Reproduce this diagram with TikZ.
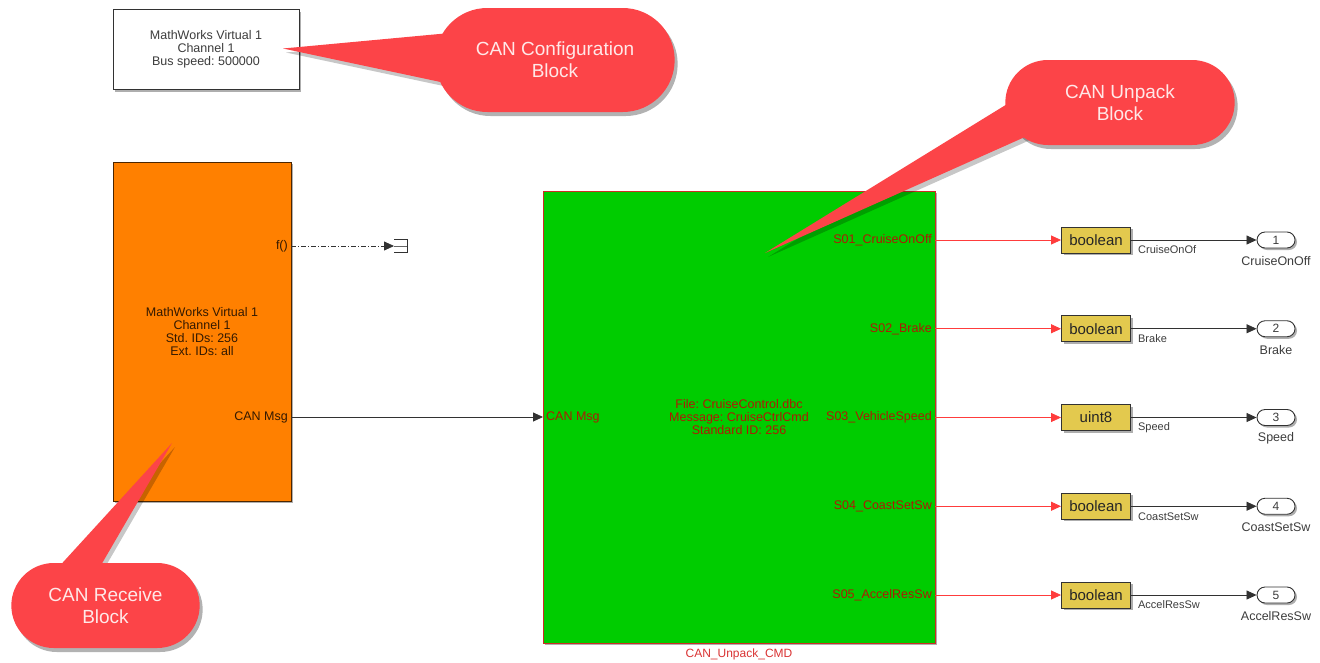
\documentclass[tikz,border=0pt]{standalone}
\usepackage{fontspec}
\setmainfont{Liberation Sans}
\usetikzlibrary{arrows.meta,shapes.misc,shadows,positioning,calc}
\frenchspacing

\definecolor{calloutred}{RGB}{252,68,72}
\definecolor{callouttxt}{RGB}{255,232,232}
\definecolor{rxorange}{RGB}{255,128,0}
\definecolor{unpkgreen}{RGB}{0,204,0}
\definecolor{unpkborder}{RGB}{205,45,35}
\definecolor{unpktxt}{RGB}{175,25,5}
\definecolor{sigred}{RGB}{255,60,60}
\definecolor{convyellow}{RGB}{227,201,78}
\definecolor{blkline}{RGB}{50,50,50}
\definecolor{lbltxt}{RGB}{60,60,60}

\begin{document}
\begin{tikzpicture}[x=1pt, y=-1pt,
  blk/.style={draw=blkline, line width=0.9pt, align=center, text=lbltxt,
    font=\fontsize{12.5}{12.8}\selectfont,
    drop shadow={shadow xshift=2pt, shadow yshift=-2pt, opacity=0.45, fill=black!70}},
  portlbl/.style={inner sep=3pt, font=\fontsize{12.5}{13}\selectfont},
  conv/.style={blk, fill=convyellow, text=black!85, inner sep=0pt,
    minimum width=69pt, minimum height=26pt, font=\fontsize{15}{16}\selectfont},
  outport/.style={blk, rounded rectangle, fill=white, inner sep=0pt,
    minimum width=38pt, minimum height=16pt, font=\fontsize{12}{12}\selectfont},
  linelbl/.style={inner sep=0pt, text=lbltxt, font=\fontsize{11}{11}\selectfont},
  callout/.style={rounded rectangle, fill=calloutred, text=callouttxt, align=center,
    font=\fontsize{19}{22}\selectfont,
    drop shadow={shadow xshift=3pt, shadow yshift=-4pt, opacity=0.3, fill=black}},
  tailshade/.style={fill=black, opacity=0.22, transform canvas={xshift=3pt, yshift=-4pt}},
  blksig/.style={draw=blkline, line width=0.8pt, -{Triangle[length=10pt,width=9pt]}},
  redsig/.style={draw=sigred, line width=0.8pt, -{Triangle[length=10pt,width=9pt]}}
]
\useasboundingbox (0,0) rectangle (1320,662);

% --- CAN configuration block ---
\node[blk, fill=white, minimum width=186pt, minimum height=80pt] (cfg) at (206,49.5)
  {MathWorks Virtual 1\\Channel 1\\Bus speed: 500000};

% --- CAN receive block ---
\node[blk, fill=rxorange, draw=black!70!rxorange, text=black!80!rxorange,
  minimum width=178pt, minimum height=339pt] (rx) at (202,331.5)
  {MathWorks Virtual 1\\Channel 1\\Std. IDs: 256\\Ext. IDs: all};
\node[portlbl, anchor=east, text=black!80!rxorange] (rxf) at (291,246) {f()};
\node[portlbl, anchor=east, text=black!80!rxorange] (rxmsg) at (291,417) {CAN Msg};

% function-call terminator
\node[inner sep=0pt, minimum width=13pt, minimum height=13pt, anchor=west] (term) at (394,246) {};
\draw[blkline, line width=0.9pt] (term.north west) -- (term.north east)
  -- (term.south east) -- (term.south west);
\draw[black!60, line width=0.8pt] (term.west) -- (term.east);
\draw[blksig, dash pattern=on 5pt off 2pt on 1pt off 2pt] (rxf.east) -- (term.west);

% --- CAN unpack block ---
\node[blk, fill=unpkgreen, draw=unpkborder, line width=0.8pt, text=unpktxt,
  minimum width=392pt, minimum height=452pt] (unpk) at (739,417)
  {File: CruiseControl.dbc\\Message: CruiseCtrlCmd\\Standard ID: 256};
\node[below=4pt of unpk, inner sep=1pt, text=sigred!85!black,
  font=\fontsize{12}{12}\selectfont] (unpkname) {CAN\_Unpack\_CMD};
\node[portlbl, anchor=west, text=unpktxt] (unpkin) at (543,417) {CAN Msg};
\draw[blksig] (rxmsg.east) -- (unpkin.west);

% signals: conversion -> outport
\foreach \n/\sig/\typ/\lnm/\onm/\yy in {
  1/S01\_CruiseOnOff/boolean/CruiseOnOf/CruiseOnOff/240,
  2/S02\_Brake/boolean/Brake/Brake/328.75,
  3/S03\_VehicleSpeed/uint8/Speed/Speed/417.5,
  4/S04\_CoastSetSw/boolean/CoastSetSw/CoastSetSw/506.25,
  5/S05\_AccelResSw/boolean/AccelResSw/AccelResSw/595} {
  \node[portlbl, anchor=east, text=unpktxt] (sig\n) at (935,\yy) {\sig};
  \node[conv] (conv\n) at (1096,\yy) {\typ};
  \node[outport] (out\n) at (1276,\yy) {\n};
  \node[portlbl, inner sep=0pt, text=lbltxt] (oname\n) at (1276,{\yy+21}) {\onm};
  \node[linelbl, anchor=west] (lbl\n) at ($(conv\n.east)+(7,10)$) {\lnm};
  \draw[redsig] (sig\n.east) -- (conv\n.west);
  \draw[blksig] (conv\n.east) -- (out\n.west);
}

% --- Callouts ---
\coordinate (cfgc) at (555,60);
\coordinate (unpkc) at (1120,102.5);
\coordinate (rxc) at (105.5,605.5);
\coordinate (cfgtip) at (283,48.5);
\coordinate (unpktip) at (765,253);
\coordinate (rxtip) at (172,443);

\fill[tailshade] (cfgtip) -- ($(cfgc)+(-105,-27)$) -- ($(cfgc)+(-105,24)$) -- cycle;
\fill[tailshade] (unpktip) -- ($(unpkc)+(-90,-12.5)$) -- ($(unpkc)+(-75,25.5)$) -- cycle;
\fill[tailshade] (rxtip) -- ($(rxc)+(-50.5,-34.5)$) -- ($(rxc)+(-8.5,-33.5)$) -- cycle;

\node[callout, minimum width=246pt, minimum height=104pt] (cfgcall) at (cfgc)
  {CAN Configuration\\Block};
\node[callout, minimum width=236pt, minimum height=85pt] (unpkcall) at (unpkc)
  {CAN Unpack\\Block};
\node[callout, minimum width=195pt, minimum height=85pt] (rxcall) at (rxc)
  {CAN Receive\\Block};

\fill[calloutred] (cfgtip) -- ($(cfgc)+(-105,-27)$) -- ($(cfgc)+(-105,24)$) -- cycle;
\fill[calloutred] (unpktip) -- ($(unpkc)+(-90,-12.5)$) -- ($(unpkc)+(-75,25.5)$) -- cycle;
\fill[calloutred] (rxtip) -- ($(rxc)+(-50.5,-34.5)$) -- ($(rxc)+(-8.5,-33.5)$) -- cycle;
\end{tikzpicture}
\end{document}
